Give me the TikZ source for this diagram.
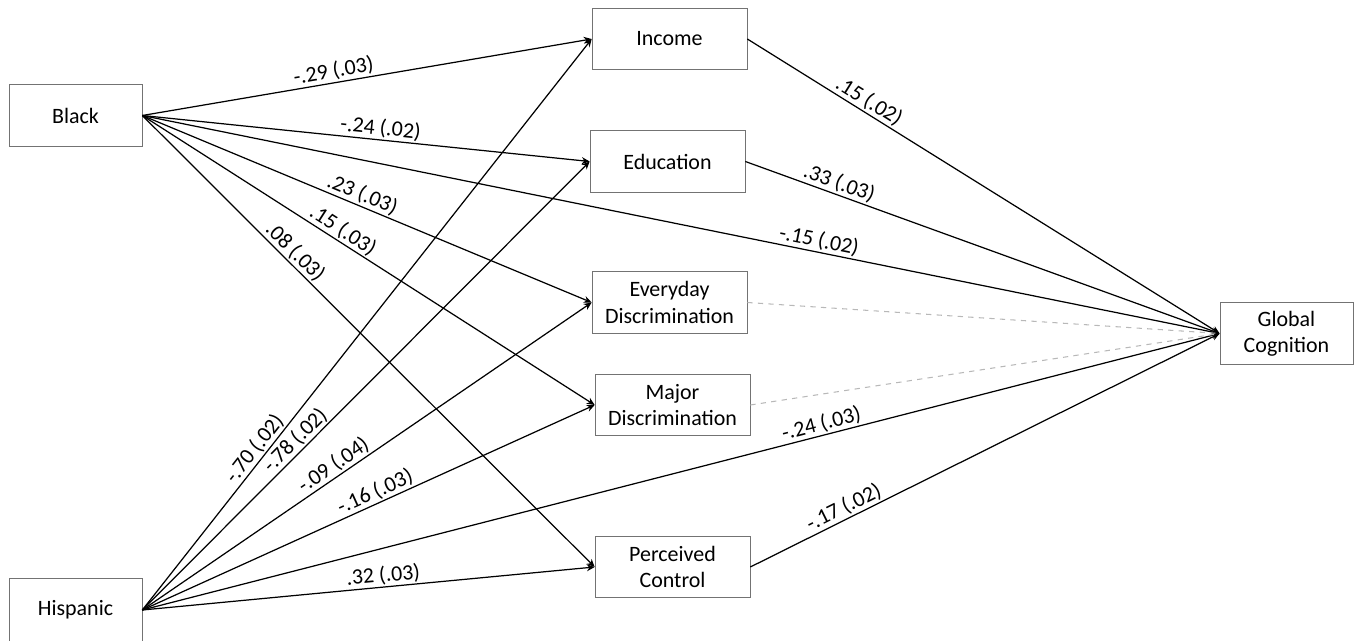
\documentclass[tikz,border=0pt]{standalone}
\usepackage{fontspec}
\setmainfont{Carlito}
\usetikzlibrary{arrows.meta}

\tikzset{
  var/.style={draw=black!55, fill=white, minimum width=3.1cm, minimum height=1.23cm,
    align=center, inner sep=1pt, font=\fontsize{12.5}{15}\selectfont},
  eff/.style={-{Stealth[length=4.5pt,width=4pt]}, line width=0.7pt},
  ns/.style={dashed, draw=black!28, line width=0.6pt},
  coef/.style={sloped, above, inner sep=0.8pt, font=\fontsize{12.5}{15}\selectfont}
}

\begin{document}
\begin{tikzpicture}[x=0.02cm,y=-0.02cm]
  \useasboundingbox (0,0) rectangle (1360,641);

  \node[var, minimum width=2.66cm] (black)    at (75.5,115.5) {Black};
  \node[var, minimum width=2.66cm, minimum height=1.26cm] (hispanic) at (75.5,610) {Hispanic};

  \node[var] (income)    at (669.5,39)    {Income};
  \node[var] (educ)      at (667.5,161.5) {Education};
  \node[var] (everyday)  at (669.5,302.5) {Everyday\\Discrimination};
  \node[var] (major)     at (672.5,405)   {Major\\Discrimination};
  \node[var] (control)   at (672.5,567)   {Perceived\\Control};
  \node[var, minimum width=2.66cm] (cognition) at (1286.5,333.5) {Global\\Cognition};

  % Black
  \draw[eff] (black.east) -- node[coef, pos=0.43]  {-.29 (.03)} (income.west);
  \draw[eff] (black.east) -- node[coef, pos=0.53]  {-.24 (.02)} (educ.west);
  \draw[eff] (black.east) -- node[coef, pos=0.48]  {.23 (.03)}  (everyday.west);
  \draw[eff] (black.east) -- node[coef, pos=0.43]  {.15 (.03)}  (major.west);
  \draw[eff] (black.east) -- node[coef, pos=0.32]  {.08 (.03)}  (control.west);
  \draw[eff] (black.east) -- node[coef, pos=0.626] {-.15 (.02)} (cognition.west);

  % Hispanic
  \draw[eff] (hispanic.east) -- node[coef, pos=0.27]  {-.70 (.02)} (income.west);
  \draw[eff] (hispanic.east) -- node[coef, pos=0.36]  {-.78 (.02)} (educ.west);
  \draw[eff] (hispanic.east) -- node[coef, pos=0.44]  {-.09 (.04)} (everyday.west);
  \draw[eff] (hispanic.east) -- node[coef, pos=0.525] {-.16 (.03)} (major.west);
  \draw[eff] (hispanic.east) -- node[coef, pos=0.535] {.32 (.03)}  (control.west);
  \draw[eff] (hispanic.east) -- node[coef, pos=0.633] {-.24 (.03)} (cognition.west);

  % mediators
  \draw[eff] (income.east)  -- node[coef, pos=0.245] {.15 (.02)}  (cognition.west);
  \draw[eff] (educ.east)    -- node[coef, pos=0.19]  {.33 (.03)}  (cognition.west);
  \draw[eff] (control.east) -- node[coef, pos=0.21]  {-.17 (.02)} (cognition.west);
  \draw[ns] (everyday.east) -- (cognition.west);
  \draw[ns] (major.east)    -- (cognition.west);
\end{tikzpicture}
\end{document}
